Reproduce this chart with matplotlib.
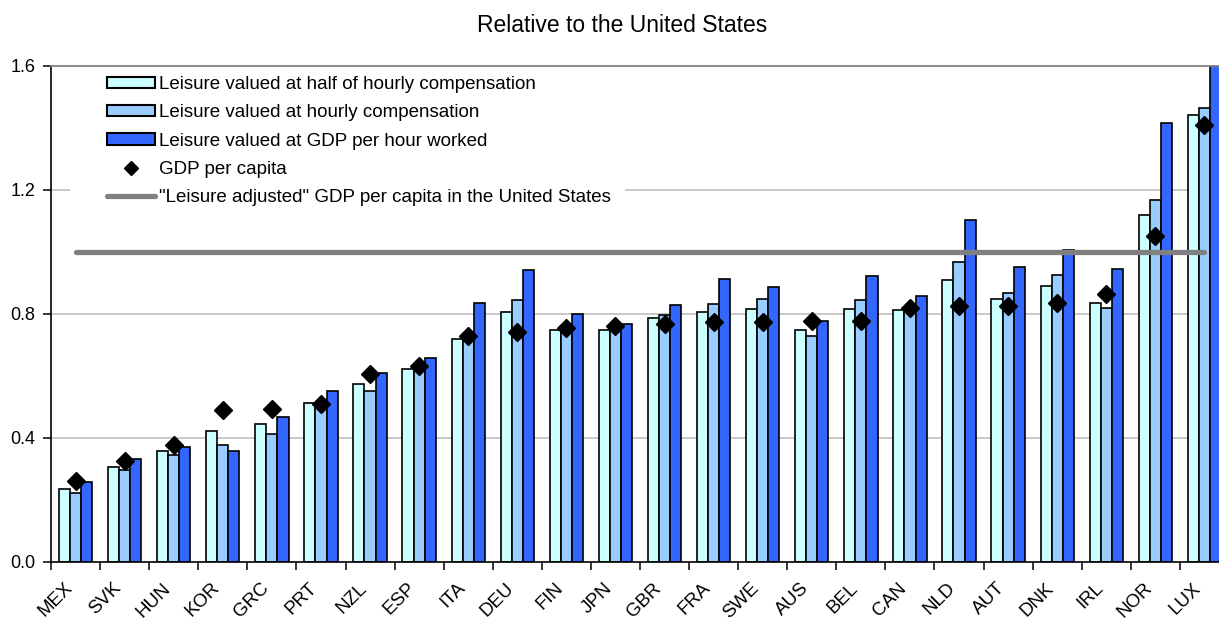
import matplotlib
matplotlib.use("Agg")
import matplotlib.pyplot as plt
import numpy as np
from matplotlib.patches import Patch, Rectangle
from matplotlib.lines import Line2D
from matplotlib.transforms import ScaledTranslation

plt.rcParams['font.family'] = ['Liberation Sans', 'DejaVu Sans']

countries = ['MEX', 'SVK', 'HUN', 'KOR', 'GRC', 'PRT', 'NZL', 'ESP', 'ITA', 'DEU', 'FIN', 'JPN',
             'GBR', 'FRA', 'SWE', 'AUS', 'BEL', 'CAN', 'NLD', 'AUT', 'DNK', 'IRL', 'NOR', 'LUX']
half_comp = [0.237, 0.308, 0.357, 0.424, 0.446, 0.512, 0.573, 0.621, 0.718, 0.805, 0.747, 0.750,
             0.786, 0.808, 0.817, 0.749, 0.817, 0.814, 0.909, 0.850, 0.890, 0.837, 1.119, 1.442]
hourly_comp = [0.221, 0.298, 0.346, 0.378, 0.414, 0.510, 0.552, 0.628, 0.730, 0.845, 0.750, 0.757,
               0.797, 0.833, 0.847, 0.728, 0.846, 0.820, 0.967, 0.867, 0.927, 0.819, 1.167, 1.463]
gdp_per_hour = [0.257, 0.332, 0.370, 0.359, 0.467, 0.553, 0.611, 0.658, 0.835, 0.941, 0.800, 0.769,
                0.829, 0.913, 0.887, 0.779, 0.923, 0.857, 1.104, 0.951, 1.005, 0.945, 1.416, 1.600]
gdp_per_capita = [0.262, 0.325, 0.376, 0.490, 0.493, 0.510, 0.606, 0.632, 0.729, 0.742, 0.755, 0.760,
                  0.769, 0.773, 0.774, 0.779, 0.777, 0.819, 0.825, 0.827, 0.837, 0.865, 1.051, 1.410]
us_level = 1.0
yticks = [0.0, 0.4, 0.8, 1.2, 1.6]

labels = ['Leisure valued at half of hourly compensation',
          'Leisure valued at hourly compensation',
          'Leisure valued at GDP per hour worked',
          'GDP per capita',
          '"Leisure adjusted" GDP per capita in the United States']
colors = ['#CCFFFF', '#99CCFF', '#3366FF']

W, H = 1219, 621
fig = plt.figure(figsize=(W / 100, H / 100), dpi=100)
ax = fig.add_axes([51 / W, 59 / H, 1178 / W, 496 / H])

x = np.arange(len(countries))
bw = 0.226
for k, (vals, c) in enumerate(zip([half_comp, hourly_comp, gdp_per_hour], colors)):
    ax.bar(x + (k - 1) * bw, vals, width=bw, color=c, edgecolor='black', linewidth=1.2, zorder=2)

ax.plot([x[0], x[-1]], [us_level, us_level], color='#808080', lw=3.8,
        solid_capstyle='round', zorder=3)
ax.plot(x, gdp_per_capita, linestyle='none', marker='D', markersize=9.5,
        color='black', zorder=4)

for yv in yticks[1:-1]:
    ax.axhline(yv, color='#C0C0C0', lw=1.2, zorder=1)

ax.set_xlim(-0.5, len(countries) - 0.5)
ax.set_ylim(0, 1.6)
ax.set_yticks(yticks)
ax.set_yticklabels([f'{v:.1f}' for v in yticks], fontsize=13)
ax.set_xticks(x)
ax.set_xticklabels(countries, fontsize=13.5, rotation=45, ha='right', va='center',
                   rotation_mode='anchor')
ax.set_xticks(np.arange(-0.5, len(countries), 1.0), minor=True)
ax.tick_params(axis='x', which='major', length=0, pad=17)
ax.tick_params(axis='x', which='minor', length=6, width=1.1, color='black')
ax.tick_params(axis='y', length=6, width=1.1, pad=5, color='black')
off = ScaledTranslation(-6 / 100, 0, fig.dpi_scale_trans)
for lab in ax.get_xticklabels():
    lab.set_transform(lab.get_transform() + off)

for s in ['left', 'bottom']:
    ax.spines[s].set_color('black')
    ax.spines[s].set_linewidth(1.2)
ax.spines['top'].set_color('#808080')
ax.spines['top'].set_linewidth(1.3)
ax.spines['right'].set_visible(False)

# white box behind legend
fig.patches.append(Rectangle((70 / W, 1 - 211 / H), 555 / W, 139 / H,
                             transform=fig.transFigure, facecolor='white',
                             edgecolor='none', zorder=1.5))
ax.set_zorder(0)
ax.patch.set_alpha(0)

handles = [Patch(facecolor=colors[0], edgecolor='black', linewidth=1.5),
           Patch(facecolor=colors[1], edgecolor='black', linewidth=1.5),
           Patch(facecolor=colors[2], edgecolor='black', linewidth=1.5),
           Line2D([], [], linestyle='none', marker='D', markersize=7, color='black'),
           Line2D([], [], color='#808080', lw=3.8, solid_capstyle='round')]
leg = fig.legend(handles, labels, loc='upper left',
                 bbox_to_anchor=(107 / W, 1 - 76 / H), bbox_transform=fig.transFigure,
                 frameon=False, fontsize=13.5, handlelength=2.55, handleheight=0.55,
                 handletextpad=0.2, labelspacing=0.6, borderpad=0, borderaxespad=0)

fig.text(622 / W, 1 - 31.7 / H, 'Relative to the United States', ha='center',
         va='baseline', fontsize=16.5)

fig.savefig('out.png', dpi=100)
